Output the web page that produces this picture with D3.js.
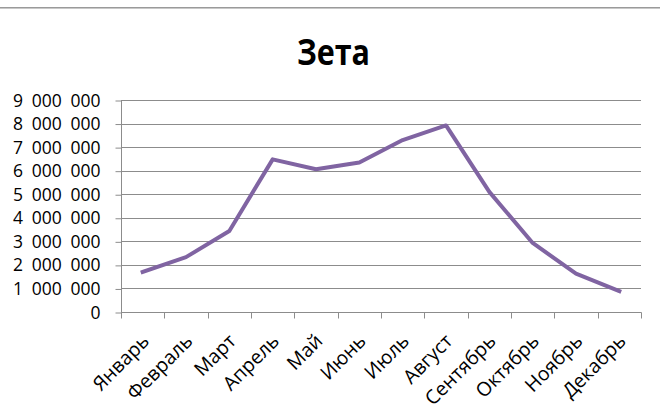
<!DOCTYPE html>
<html><head><meta charset="utf-8">
<script src="https://cdn.jsdelivr.net/npm/d3@7"></script>
<style>html,body{margin:0;padding:0;background:#fff;}svg{display:block;}</style>
</head><body>
<script>
const title = "Зета";
const months = ["Январь","Февраль","Март","Апрель","Май","Июнь","Июль","Август","Сентябрь","Октябрь","Ноябрь","Декабрь"];
const values = [1700000,2330000,3440000,6480000,6060000,6350000,7300000,7920000,5100000,2930000,1630000,890000];
const yTicks = [0,1000000,2000000,3000000,4000000,5000000,6000000,7000000,8000000,9000000];

(function(){
const W = 660, H = 418;
const svg = d3.select("body").append("svg").attr("width", W).attr("height", H);
const font = "'Open Sans', sans-serif";
const lblSize = 17.5, xLblSize = 19.5;

svg.append("line").attr("x1",0).attr("x2",W).attr("y1",7.5).attr("y2",7.5).attr("stroke","#9a9a9a");
svg.append("line").attr("x1",0).attr("x2",W).attr("y1",8.5).attr("y2",8.5).attr("stroke","#c8c8c8");

const pL = 121, pR = 641, pT = 100, pB = 312;
const x = d3.scaleBand().domain(months).range([pL, pR]).padding(0);
const y = d3.scaleLinear().domain([0, 9000000]).range([pB, pT]);

const fmt = v => d3.format(",")(v).replace(/,/g, "\u2002");

svg.append("g").selectAll("line").data(yTicks.slice(1)).join("line")
  .attr("x1", pL).attr("x2", pR)
  .attr("y1", d => Math.round(y(d)) + 0.5).attr("y2", d => Math.round(y(d)) + 0.5)
  .attr("stroke", "#8c8c8c").attr("stroke-width", 1);

const yAxis = d3.axisLeft(y).tickValues(yTicks).tickFormat(fmt).tickSize(6).tickPadding(15);
const ya = svg.append("g").attr("transform", `translate(${pL + 0.5},0.5)`).call(yAxis)
  .attr("font-family", font).attr("font-size", lblSize);
ya.select(".domain").attr("stroke", "#8c8c8c").attr("d", `M0,${pT}V${pB}`);
ya.selectAll(".tick line").attr("stroke", "#8c8c8c");
ya.selectAll(".tick text").style("font-family", font).style("font-size", lblSize + "px").attr("fill", "#000");

const xa = svg.append("g").attr("transform", `translate(0,${pB + 0.5})`);
xa.append("line").attr("x1", pL).attr("x2", pR + 0.5).attr("stroke", "#8c8c8c");
const bounds = months.map(m => x(m)).concat([pR]);
xa.selectAll("line.tk").data(bounds).join("line").attr("class","tk")
  .attr("x1", d => Math.round(d) + 0.5).attr("x2", d => Math.round(d) + 0.5)
  .attr("y1", 0).attr("y2", 6).attr("stroke", "#8c8c8c");
xa.selectAll("text").data(months).join("text")
  .attr("transform", d => `translate(${x(d) + x.bandwidth()/2 + 3},${25}) rotate(-45)`)
  .attr("text-anchor", "end").attr("dy", "0.35em")
  .style("font-family", font).style("font-size", xLblSize + "px").attr("fill", "#000")
  .text(d => d);

const line = d3.line().x((d, i) => x(months[i]) + x.bandwidth()/2).y(d => y(d));
svg.append("path").datum(values).attr("d", line)
  .attr("fill", "none").attr("stroke", "#8064A2").attr("stroke-width", 4)
  .attr("stroke-linejoin", "round").attr("stroke-linecap", "square");

svg.append("text").attr("x", 333.5).attr("y", 65).attr("text-anchor", "middle")
  .style("font-family", font).attr("font-weight", "bold").style("font-size", "36px")
  .attr("textLength", 73).attr("lengthAdjust", "spacingAndGlyphs")
  .attr("fill", "#000").text(title);
})();
</script>
</body></html>
